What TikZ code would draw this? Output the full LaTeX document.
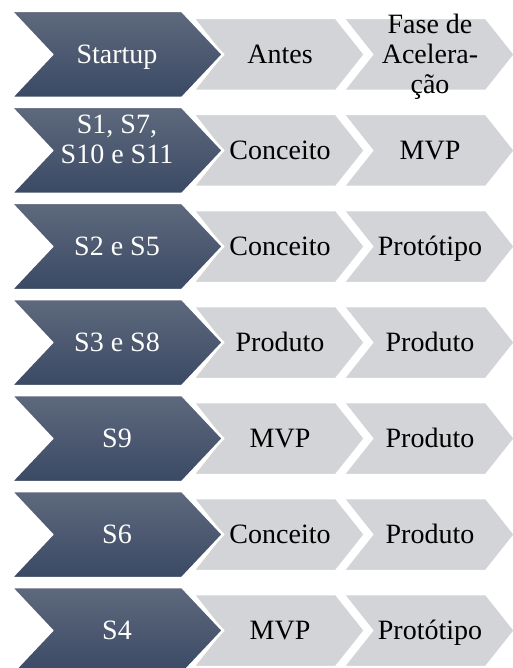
\documentclass[tikz,border=0pt]{standalone}
\usepackage{fontspec}
\setmainfont{Liberation Serif}
\definecolor{darktop}{RGB}{94,105,124}
\definecolor{darkbot}{RGB}{58,73,101}
\definecolor{lightg}{RGB}{211,212,216}
\tikzset{
  darkchev/.style={draw=white, line width=2.5pt, top color=darktop, bottom color=darkbot},
  lightchev/.style={draw=white, line width=2.5pt, fill=lightg},
  chevtext/.style={font=\fontsize{28}{30}\selectfont, align=center, inner sep=0pt},
  darktext/.style={chevtext, text=white},
  lighttext/.style={chevtext, text=black}
}
% #1 row, #2 dark text, #3 dark anchor, #4 dark y, #5 light text 1, #6 light text 2, #7 anchor 2, #8 y 2
\newcommand\chevrow[8]{%
  \begin{scope}[yshift={-96pt*#1}]
    \path[lightchev] (343,18) -- (486,18) -- (515,54.5) -- (486,91) -- (343,91) -- (372,54.5) -- cycle;
    \path[lightchev] (193,18) -- (336,18) -- (365,54.5) -- (336,91) -- (193,91) -- (222,54.5) -- cycle;
    \path[darkchev] (11,11) -- (182,11) -- (223,54.5) -- (182,98) -- (11,98) -- (52,54.5) -- cycle;
    \node[darktext, anchor=#3] (d#1) at (117,#4) {#2};
    \node[lighttext, anchor=base] (a#1) at (280,63.5) {#5};
    \node[lighttext, anchor=#7] (b#1) at (430,#8) {#6};
  \end{scope}}
\begin{document}
\begin{tikzpicture}[x=1pt,y=-1pt]
  \useasboundingbox (0,0) rectangle (513,668);
  \clip (0,0) rectangle (513,668);
  \chevrow{0}{Startup}{base}{63.5}{Antes}{Fase de\\Acelera-\\ção}{center}{57}
  \chevrow{1}{S1, S7,\\S10 e S11}{center}{43}{Conceito}{MVP}{base}{63.5}
  \chevrow{2}{S2 e S5}{base}{63.5}{Conceito}{Protótipo}{base}{63.5}
  \chevrow{3}{S3 e S8}{base}{63.5}{Produto}{Produto}{base}{63.5}
  \chevrow{4}{S9}{base}{63.5}{MVP}{Produto}{base}{63.5}
  \chevrow{5}{S6}{base}{63.5}{Conceito}{Produto}{base}{63.5}
  \chevrow{6}{S4}{base}{63.5}{MVP}{Protótipo}{base}{63.5}
\end{tikzpicture}
\end{document}
